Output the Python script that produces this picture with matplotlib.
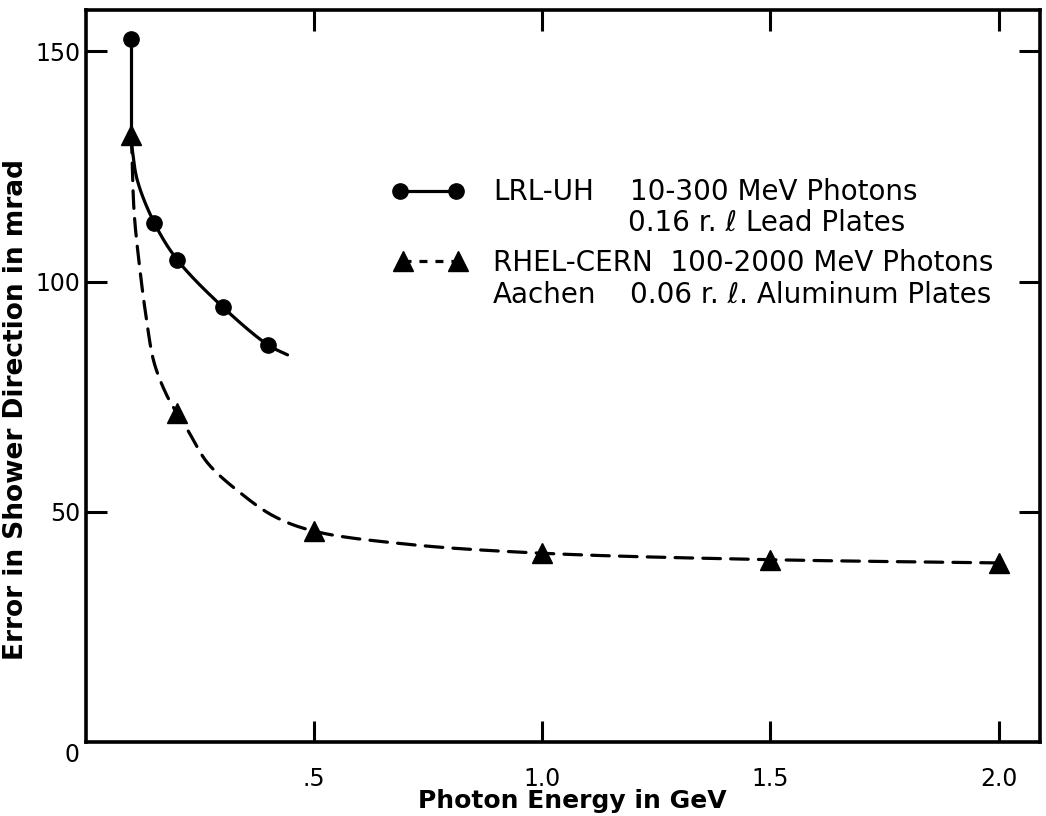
import numpy as np
import matplotlib
matplotlib.use("Agg")
import matplotlib.pyplot as plt

# ---- data ----
lrl_x = [0.10, 0.15, 0.20, 0.30, 0.40]
lrl_y = [152.7, 112.8, 104.8, 94.5, 86.2]

rhel_x = [0.10, 0.20, 0.50, 1.00, 1.50, 2.00]
rhel_y = [131.8, 71.4, 45.8, 41.0, 39.6, 38.9]

# hand-drawn fit curves
lrl_drop_x = [0.10, 0.10]
lrl_drop_y = [152.7, 131.0]
lrl_fit_x = [0.100, 0.113, 0.150, 0.200, 0.300, 0.400, 0.442]
lrl_fit_y = [130.0, 122.0, 112.8, 104.8, 94.5, 86.2, 84.1]

rhel_fit_x = [0.100, 0.106, 0.117, 0.132, 0.150, 0.179, 0.200, 0.223, 0.267,
              0.340, 0.413, 0.500, 0.700, 1.000, 1.500, 2.000]
rhel_fit_y = [131.8, 115.0, 104.0, 92.5, 82.3, 75.0, 71.4, 67.8, 60.6,
              54.0, 49.0, 45.8, 43.0, 41.0, 39.6, 38.9]

x_ticks = [0.5, 1.0, 1.5, 2.0]
x_ticklabels = [".5", "1.0", "1.5", "2.0"]
y_ticks = [50, 100, 150]
y_ticklabels = ["50", "100", "150"]

# legend text pieces: (text, left x px, centre y px)
legend_texts = [
    ("LRL-UH", 493, 192),
    ("10-300 MeV Photons", 630, 192),
    ("0.16 r. \u2113 Lead Plates", 628, 223),
    ("RHEL-CERN  100-2000 MeV Photons", 493, 263),
    ("Aachen", 493, 295),
    ("0.06 r. \u2113. Aluminum Plates", 630, 295),
]


def smooth(xs, ys, sx, sy, n=30):
    """Centripetal Catmull-Rom through the traced points (rendering only)."""
    P = np.column_stack([np.asarray(xs) * sx, np.asarray(ys) * sy])
    P = np.vstack([2 * P[0] - P[1], P, 2 * P[-1] - P[-2]])
    out = []
    for i in range(1, len(P) - 2):
        p0, p1, p2, p3 = P[i - 1], P[i], P[i + 1], P[i + 2]
        def tj(ti, a, b):
            return ti + max(np.linalg.norm(b - a), 1e-6) ** 0.5
        t0 = 0.0
        t1 = tj(t0, p0, p1)
        t2 = tj(t1, p1, p2)
        t3 = tj(t2, p2, p3)
        t = np.linspace(t1, t2, n)[:, None]
        A1 = (t1 - t) / (t1 - t0) * p0 + (t - t0) / (t1 - t0) * p1
        A2 = (t2 - t) / (t2 - t1) * p1 + (t - t1) / (t2 - t1) * p2
        A3 = (t3 - t) / (t3 - t2) * p2 + (t - t2) / (t3 - t2) * p3
        B1 = (t2 - t) / (t2 - t0) * A1 + (t - t0) / (t2 - t0) * A2
        B2 = (t3 - t) / (t3 - t1) * A2 + (t - t1) / (t3 - t1) * A3
        C = (t2 - t) / (t2 - t1) * B1 + (t - t1) / (t2 - t1) * B2
        out.append(C if i == 1 else C[1:])
    C = np.vstack(out)
    return C[:, 0] / sx, C[:, 1] / sy


fig = plt.figure(figsize=(10.46, 8.16), dpi=100)
ax = fig.add_axes([0.082, 0.0907, 0.912, 0.897])
ax.set_xlim(0, 2.09)
ax.set_ylim(0, 159)

SX, SY = 456.0, 4.6
lw = 2.3

# LRL-UH (solid)
ax.plot(lrl_drop_x, lrl_drop_y, color="black", lw=lw, solid_capstyle="round")
fx, fy = smooth(lrl_fit_x, lrl_fit_y, SX, SY)
ax.plot(fx, fy, color="black", lw=lw, solid_capstyle="round")
ax.plot(lrl_x, lrl_y, linestyle="none", marker="o", ms=11, color="black")

# RHEL-CERN (dashed)
gx, gy = smooth(rhel_fit_x, rhel_fit_y, SX, SY)
ax.plot(gx, gy, color="black", lw=lw, dashes=(5.5, 3.2), dash_capstyle="round")
ax.plot(rhel_x, rhel_y, linestyle="none", marker="^", ms=15, color="black")

# axes styling
for s in ax.spines.values():
    s.set_linewidth(2.6)
ax.set_xticks(x_ticks)
ax.set_xticklabels(x_ticklabels)
ax.set_yticks(y_ticks)
ax.set_yticklabels(y_ticklabels)
ax.tick_params(direction="in", length=15, width=2.2, top=True, right=True,
               labelsize=17)
ax.tick_params(axis="x", pad=18)
ax.tick_params(axis="y", pad=4)
ax.text(-0.007, -0.002, "0", transform=ax.transAxes, ha="right", va="top",
        fontsize=17)

ax.set_xlabel("Photon Energy in GeV", fontsize=18, fontweight="bold",
              va="top")
ax.xaxis.set_label_coords(0.51, -0.064)
ax.set_ylabel("Error in Shower Direction in mrad", fontsize=19,
              fontweight="bold")
ax.yaxis.set_label_coords(-0.059, 0.454)

# legend drawn as in the figure
def px(x, y):
    # figure-pixel coords (from top-left) to figure fraction
    return x / 1046.0, 1 - y / 816.0

# circle sample
x1, y1 = px(400, 191)
x2, _ = px(456, 191)
fig.lines.append(plt.Line2D([x1, x2], [y1, y1], transform=fig.transFigure,
                            color="black", lw=lw))
fig.lines.append(plt.Line2D([x1, x2], [y1, y1], transform=fig.transFigure,
                            color="black", ls="none", marker="o", ms=11))
# triangle sample
x1, y3 = px(403, 261)
x2, _ = px(458, 261)
fig.lines.append(plt.Line2D([x1, x2], [y3, y3], transform=fig.transFigure,
                            color="black", lw=lw, dashes=(2.5, 2.5)))
fig.lines.append(plt.Line2D([x1, x2], [y3, y3], transform=fig.transFigure,
                            color="black", ls="none", marker="^", ms=15))

for txt, tx, ty in legend_texts:
    fig.text(*px(tx, ty), txt, fontsize=20, va="center", ha="left",
             transform=fig.transFigure)

fig.savefig("out.png", dpi=100)
